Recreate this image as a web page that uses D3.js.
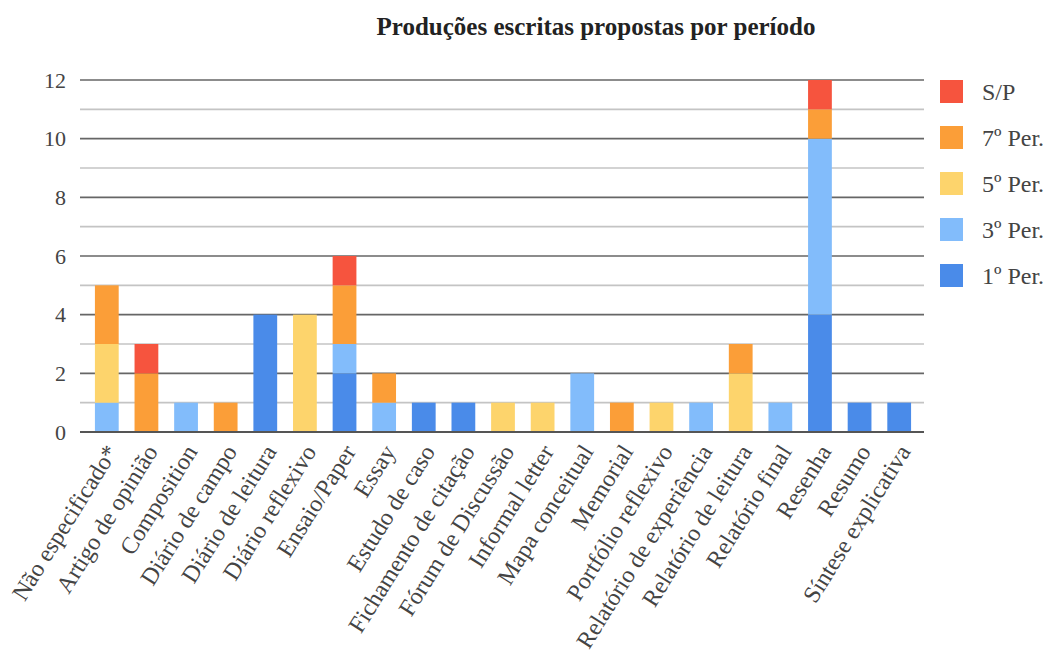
<!DOCTYPE html>
<html>
<head>
<meta charset="utf-8">
<script src="https://cdn.jsdelivr.net/npm/d3@7"></script>
<style>
  body { margin: 0; background: #fff; }
  text { font-family: "Liberation Serif", "DejaVu Serif", serif; }
</style>
</head>
<body>
<svg id="chart"></svg>
<script>
// Categories (x axis)
const categories = ['Não especificado*', 'Artigo de opinião', 'Composition', 'Diário de campo',
  'Diário de leitura', 'Diário reflexivo', 'Ensaio/Paper', 'Essay', 'Estudo de caso',
  'Fichamento de citação', 'Fórum de Discussão', 'Informal letter', 'Mapa conceitual',
  'Memorial', 'Portfólio reflexivo', 'Relatório de experiência', 'Relatório de leitura',
  'Relatório final', 'Resenha', 'Resumo', 'Síntese explicativa'];

// Series, stacked bottom to top
const seriesNames = ['1º Per.', '3º Per.', '5º Per.', '7º Per.', 'S/P'];
const per1 = [0, 0, 0, 0, 4, 0, 2, 0, 1, 1, 0, 0, 0, 0, 0, 0, 0, 0, 4, 1, 1];
const per3 = [1, 0, 1, 0, 0, 0, 1, 1, 0, 0, 0, 0, 2, 0, 0, 1, 0, 1, 6, 0, 0];
const per5 = [2, 0, 0, 0, 0, 4, 0, 0, 0, 0, 1, 1, 0, 0, 1, 0, 2, 0, 0, 0, 0];
const per7 = [2, 2, 0, 1, 0, 0, 2, 1, 0, 0, 0, 0, 0, 1, 0, 0, 1, 0, 1, 0, 0];
const semPer = [0, 1, 0, 0, 0, 0, 1, 0, 0, 0, 0, 0, 0, 0, 0, 0, 0, 0, 1, 0, 0];
const yTicks = [0, 2, 4, 6, 8, 10, 12];
const gridValues = [0, 1, 2, 3, 4, 5, 6, 7, 8, 9, 10, 11, 12];

const colors = ['#4a8be9', '#82bcfb', '#fdd46c', '#fb9e38', '#f6543e'];
const serif = '"Liberation Serif", "DejaVu Serif", serif';

const width = 1046, height = 666;
const svg = d3.select('#chart').attr('width', width).attr('height', height);

// build rows for d3.stack
const seriesArrays = [per1, per3, per5, per7, semPer];
const rows = categories.map((c, i) => {
  const r = { cat: c };
  seriesNames.forEach((s, j) => { r[s] = seriesArrays[j][i]; });
  return r;
});
const stacked = d3.stack().keys(seriesNames)(rows);

const x = d3.scaleBand().domain(categories).range([87, 919]).paddingInner(0.4).paddingOuter(0.2);
const y = d3.scaleLinear().domain([0, 12]).range([432, 80]);

// gridlines
svg.append('g').selectAll('line')
  .data(gridValues)
  .join('line')
  .attr('x1', 80).attr('x2', 924)
  .attr('y1', d => y(d)).attr('y2', d => y(d))
  .attr('stroke', d => d % 2 === 0 ? '#666' : '#c4c4c4')
  .attr('stroke-width', 1.6);

// bars
svg.append('g').selectAll('g')
  .data(stacked)
  .join('g')
  .attr('fill', (d, i) => colors[i])
  .selectAll('rect')
  .data(d => d.filter(v => v[1] > v[0]))
  .join('rect')
  .attr('x', d => x(d.data.cat))
  .attr('width', x.bandwidth())
  .attr('y', d => y(d[1]))
  .attr('height', d => y(d[0]) - y(d[1]));

// baseline
svg.append('line')
  .attr('x1', 80).attr('x2', 924)
  .attr('y1', y(0)).attr('y2', y(0))
  .attr('stroke', '#555').attr('stroke-width', 2);

// y axis labels
const yAxis = d3.axisLeft(y).tickValues(yTicks).tickSize(0).tickPadding(14);
const yG = svg.append('g').attr('transform', 'translate(80,0)').call(yAxis);
yG.select('.domain').remove();
yG.selectAll('text').attr('font-size', 22).attr('fill', '#444')
  .attr('font-family', serif);

// x axis labels
svg.append('g').selectAll('text')
  .data(categories)
  .join('text')
  .attr('transform', d => `translate(${x(d) + x.bandwidth() / 2 + 5},${447}) rotate(-58)`)
  .attr('text-anchor', 'end')
  .attr('dy', '0.35em')
  .attr('font-size', 24)
  .attr('font-family', serif)
  .attr('fill', '#444')
  .text(d => d);

// title
svg.append('text')
  .attr('x', 596).attr('y', 35)
  .attr('text-anchor', 'middle')
  .attr('font-size', 25)
  .attr('font-weight', 'bold')
  .attr('font-family', serif)
  .attr('fill', '#222')
  .text('Produções escritas propostas por período');

// legend, top entry is the top of the stack
const legendItems = seriesNames.map((s, i) => ({ name: s, color: colors[i] })).reverse();
const legend = svg.append('g').selectAll('g')
  .data(legendItems)
  .join('g')
  .attr('transform', (d, i) => `translate(940,${80 + i * 46})`);
legend.append('rect').attr('width', 23).attr('height', 23).attr('fill', d => d.color);
legend.append('text')
  .attr('x', 42).attr('y', 12).attr('dy', '0.35em')
  .attr('font-size', 24).attr('font-family', serif).attr('fill', '#444')
  .text(d => d.name);
</script>
</body>
</html>
